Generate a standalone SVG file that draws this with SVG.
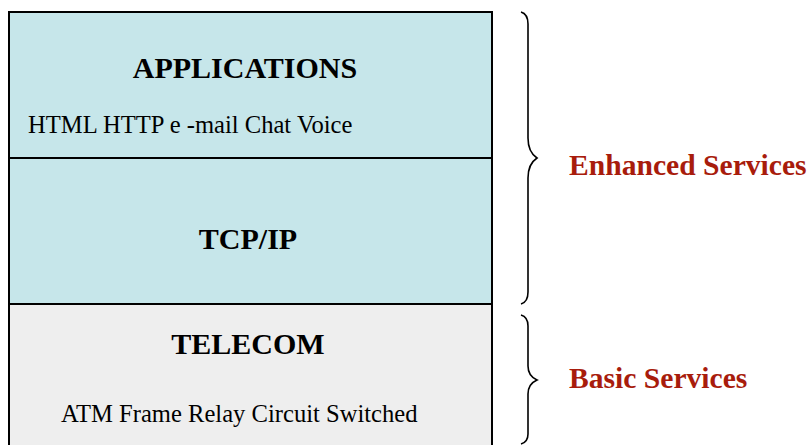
<svg xmlns="http://www.w3.org/2000/svg" width="810" height="445" viewBox="0 0 810 445">
<style>
.t{font-family:"Liberation Serif","Times New Roman",serif;fill:#000}
.h{font-weight:bold;font-size:30px;text-anchor:middle}
.s{font-size:24.6px}
.r{font-family:"Liberation Serif","Times New Roman",serif;font-weight:bold;font-size:29.6px;fill:#a81c0c}
.b{fill:none;stroke:#000;stroke-width:2}
</style>
<rect width="810" height="445" fill="#fff"/>
<g id="applications">
<rect x="9" y="12" width="483" height="146" class="b" style="fill:#c6e6ea"/>
<text class="t h" x="245" y="78">APPLICATIONS</text>
<text class="t s" x="28" y="133">HTML HTTP e -mail Chat Voice</text>
</g>
<g id="tcpip">
<rect x="9" y="158" width="483" height="146" class="b" style="fill:#c6e6ea"/>
<text class="t h" x="248" y="249">TCP/IP</text>
</g>
<g id="telecom">
<rect x="9" y="304" width="483" height="160" class="b" style="fill:#eeeeee"/>
<text class="t h" x="248" y="354">TELECOM</text>
<text class="t s" x="61" y="422">ATM Frame Relay Circuit Switched</text>
</g>
<g id="connectors">
<path class="b" style="stroke-width:1.6" d="M521,12 Q528,14 528,24 L528,138 Q528,152 537,158 Q528,164 528,178 L528,292 Q528,302 521,304"/>
<path class="b" style="stroke-width:1.6" d="M521,315 Q528,317 528,326 L528,366 Q528,376 537,380 Q528,384 528,394 L528,434 Q528,442 521,444"/>
</g>
<g id="enhanced"><text class="r" x="569" y="175">Enhanced Services</text></g>
<g id="basic"><text class="r" x="569" y="388">Basic Services</text></g>
</svg>
